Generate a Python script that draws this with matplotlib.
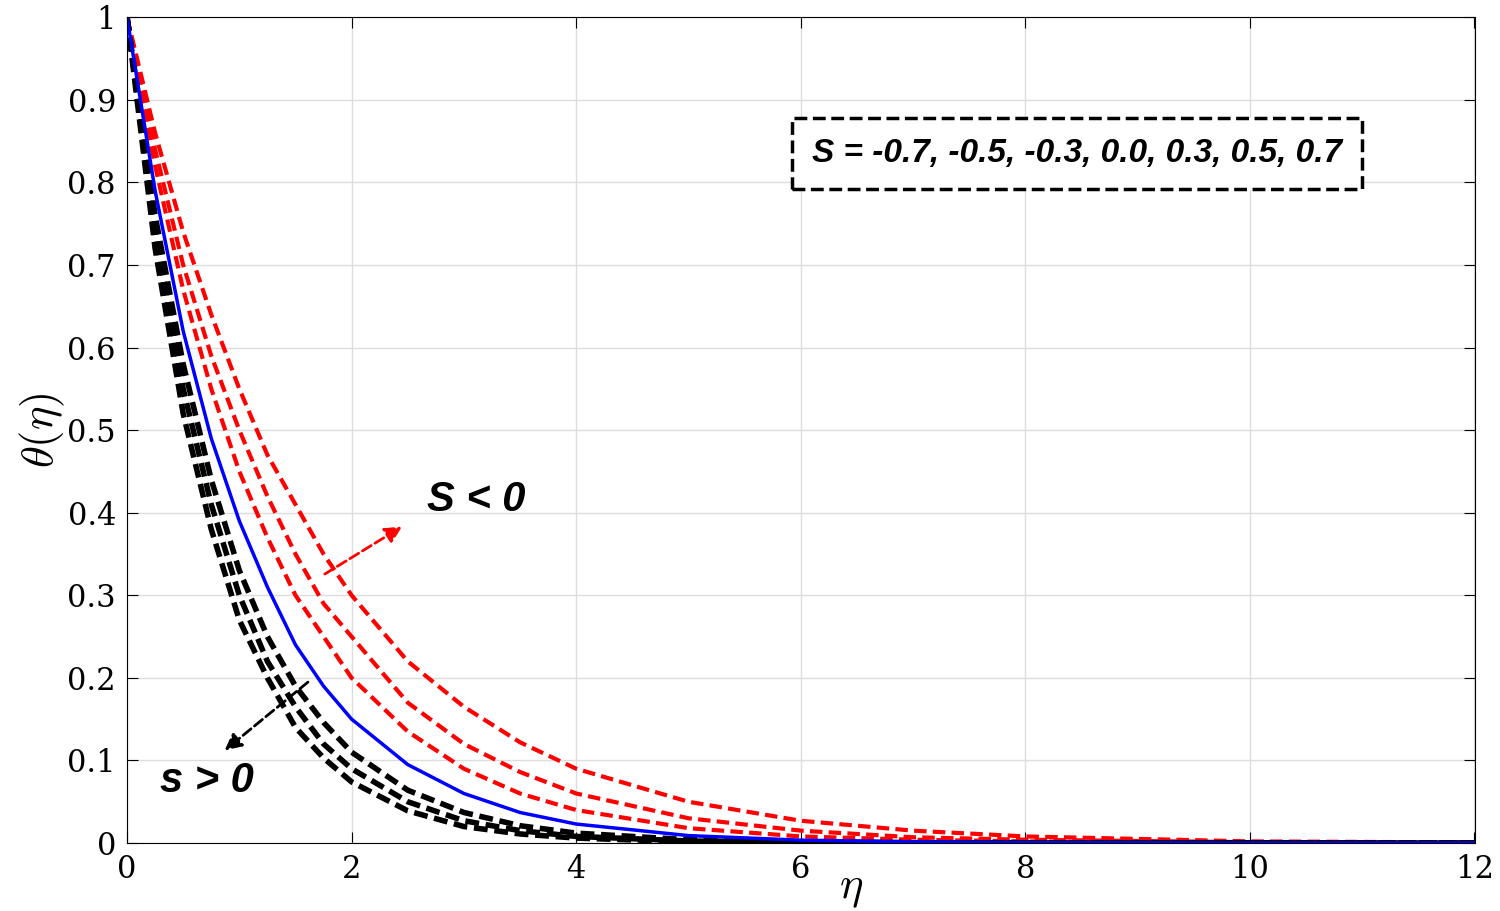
import numpy as np
import matplotlib.pyplot as plt

eta = [0, 0.25, 0.5, 0.75, 1, 1.25, 1.5, 1.75, 2, 2.5, 3, 3.5, 4, 5, 6, 7, 8, 10, 12]

# S < 0 (red)
th_m07 = [1, 0.86, 0.74, 0.64, 0.55, 0.47, 0.41, 0.35, 0.30, 0.22, 0.165, 0.122, 0.09, 0.05, 0.027, 0.015, 0.008, 0.002, 0.0007]
th_m05 = [1, 0.84, 0.70, 0.59, 0.50, 0.42, 0.35, 0.29, 0.25, 0.17, 0.12, 0.086, 0.06, 0.03, 0.015, 0.007, 0.004, 0.001, 0]
th_m03 = [1, 0.82, 0.67, 0.55, 0.45, 0.37, 0.30, 0.25, 0.20, 0.135, 0.09, 0.06, 0.04, 0.018, 0.008, 0.004, 0.002, 0.0003, 0]
# S = 0 (blue)
th_00 = [1, 0.79, 0.62, 0.49, 0.39, 0.31, 0.24, 0.19, 0.15, 0.095, 0.06, 0.037, 0.023, 0.009, 0.0035, 0.0014, 0.0005, 0, 0]
# S > 0 (black)
th_p03 = [1, 0.76, 0.58, 0.44, 0.33, 0.25, 0.19, 0.146, 0.11, 0.064, 0.037, 0.021, 0.012, 0.004, 0.0014, 0.0005, 0, 0, 0]
th_p05 = [1, 0.74, 0.55, 0.41, 0.30, 0.22, 0.165, 0.12, 0.09, 0.05, 0.027, 0.015, 0.008, 0.0025, 0.0007, 0, 0, 0, 0]
th_p07 = [1, 0.72, 0.52, 0.38, 0.27, 0.20, 0.14, 0.103, 0.074, 0.039, 0.02, 0.011, 0.006, 0.0015, 0.0004, 0, 0, 0, 0]

plt.rcParams['mathtext.fontset'] = 'cm'
fig = plt.figure(figsize=(15, 9.11), dpi=100)
ax = fig.add_axes([0.0847, 0.0746, 0.8983, 0.9064])

for th in (th_m07, th_m05, th_m03):
  ax.plot(eta, th, 'r--', lw=3, dashes=(3, 1.5))
for th in (th_p03, th_p05, th_p07):
  ax.plot(eta, th, 'k--', lw=4, dashes=(2.5, 1.2))
ax.plot(eta, th_00, 'b-', lw=2.5)

ax.set_xlim(0, 12)
ax.set_ylim(0, 1)
ax.set_xticks(range(0, 13, 2))
ax.set_yticks(np.arange(0, 1.01, 0.1))
ax.set_xticklabels([str(v) for v in range(0, 13, 2)])
ax.set_yticklabels(['0'] + ['%.1f' % v for v in np.arange(0.1, 0.95, 0.1)] + ['1'])
ax.tick_params(labelsize=22, direction='in', length=8, top=True, right=True, pad=8)
for lab in ax.get_xticklabels() + ax.get_yticklabels():
  lab.set_family('DejaVu Serif')
ax.grid(color='#dddddd', lw=1)
ax.set_ylabel(r'$\theta(\eta)$', fontsize=32, labelpad=0)
ax.text(6.45, -0.055, r'$\eta$', fontsize=32, ha='center', va='center')

sans = 'Liberation Sans'
ax.text(6.1, 0.835, 'S = -0.7, -0.5, -0.3, 0.0, 0.3, 0.5, 0.7', fontsize=24,
        weight='bold', style='italic', family=sans, va='center',
        bbox=dict(boxstyle='square,pad=0.6', fc='white', ec='black', ls='--', lw=2.5))
ax.text(2.67, 0.415, 'S < 0', fontsize=30, weight='bold', style='italic', family=sans, va='center')
ax.text(0.29, 0.075, 's > 0', fontsize=30, weight='bold', style='italic', family=sans, va='center')
ax.annotate('', xy=(2.47, 0.385), xytext=(1.74, 0.324),
            arrowprops=dict(arrowstyle='-|>', color='red', ls='--', lw=2, mutation_scale=25))
ax.annotate('', xy=(0.85, 0.11), xytext=(1.63, 0.197),
            arrowprops=dict(arrowstyle='-|>', color='black', ls='--', lw=2, mutation_scale=25))

fig.savefig('out.png')
